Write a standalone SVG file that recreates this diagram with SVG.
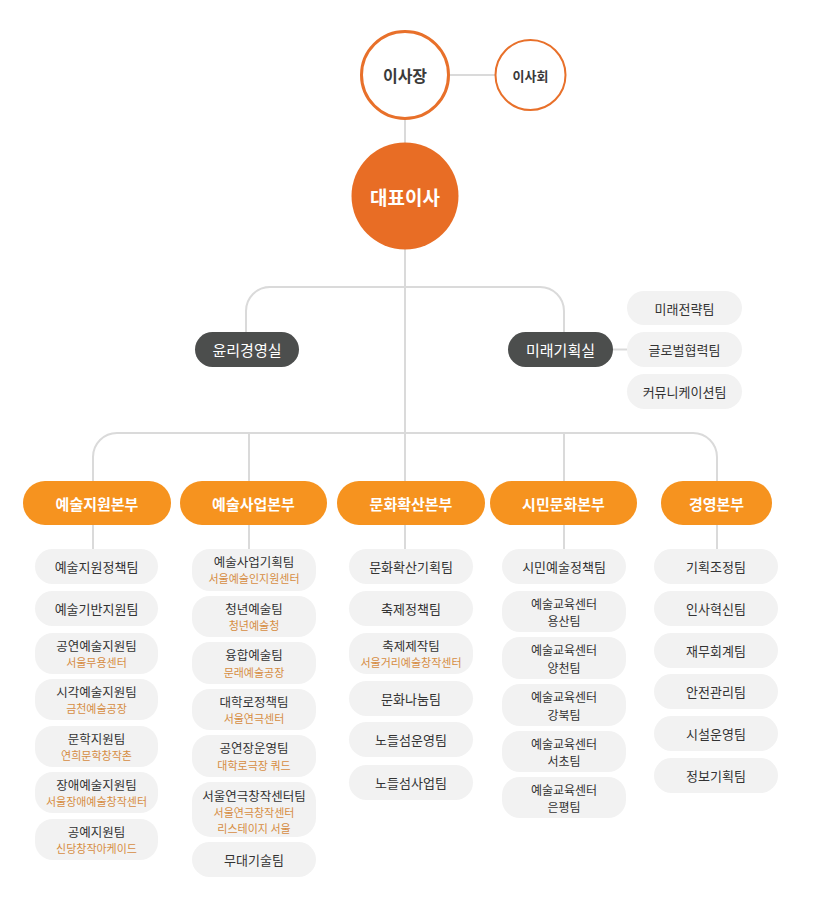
<svg xmlns="http://www.w3.org/2000/svg" width="820" height="900" viewBox="0 0 820 900">
<style>
text{font-family:"Noto Sans CJK KR","Noto Sans",sans-serif;text-anchor:middle;dominant-baseline:central}
.ln{fill:none;stroke:#dadada;stroke-width:2}
.box{fill:#f2f2f2}
.t{font-size:13px;fill:#333}
.m{font-size:12.5px;fill:#333}
.t2{font-size:12px;fill:#333}
.s{font-size:11px;fill:#d68d42}
.div{fill:#f6931f}
.dt{font-size:15px;font-weight:bold;fill:#fff}
.dark{fill:#4c4e4d}
.dk{font-size:15px;fill:#fff}
</style>
<rect width="820" height="900" fill="#fff"/>
<g id="connectors">
<line class="ln" x1="450" y1="75" x2="495" y2="75"/>
<line class="ln" x1="405" y1="119" x2="405" y2="143"/>
<line class="ln" x1="405" y1="249" x2="405" y2="481"/>
<path class="ln" d="M246,332 V311 A24,24 0 0 1 270,287 H540 A24,24 0 0 1 564,311 V332"/>
<line class="ln" x1="613" y1="349.5" x2="627" y2="349.5"/>
<path class="ln" d="M93,481 V457 A24,24 0 0 1 117,433 H693 A24,24 0 0 1 717,457 V481"/>
<line class="ln" x1="249" y1="433" x2="249" y2="481"/>
<line class="ln" x1="564" y1="433" x2="564" y2="481"/>
<line class="ln" x1="93" y1="525" x2="93" y2="549"/>
<line class="ln" x1="249" y1="525" x2="249" y2="549"/>
<line class="ln" x1="405" y1="525" x2="405" y2="549"/>
<line class="ln" x1="564" y1="525" x2="564" y2="549"/>
<line class="ln" x1="717" y1="525" x2="717" y2="549"/>
</g>
<g id="chairman"><circle cx="405" cy="75" r="43.5" fill="#fff" stroke="#e8702a" stroke-width="3"/><text x="405" y="75" style="font-size:16px;font-weight:bold;fill:#3a3a3a">이사장</text></g>
<g id="board"><circle cx="530.5" cy="75" r="35" fill="#fff" stroke="#e8702a" stroke-width="2"/><text x="530.5" y="75" style="font-size:13px;font-weight:bold;fill:#3a3a3a">이사회</text></g>
<g id="ceo"><circle cx="405" cy="196" r="53.5" fill="#e86d25"/><text x="405" y="196" style="font-size:19px;font-weight:bold;fill:#fff">대표이사</text></g>
<g id="ethics"><rect class="dark" x="195" y="332" width="104" height="35" rx="17.5"/><text class="dk" x="247" y="349.5">윤리경영실</text></g>
<g id="future"><rect class="dark" x="508" y="332" width="105" height="35" rx="17.5"/><text class="dk" x="560.5" y="349.5">미래기획실</text></g>
<g id="future-teams">
<rect class="box" x="627" y="291" width="115" height="34" rx="17"/><text class="t" x="684.5" y="308">미래전략팀</text>
<rect class="box" x="627" y="332" width="115" height="35" rx="17.5"/><text class="t" x="684.5" y="349.5">글로벌협력팀</text>
<rect class="box" x="627" y="374" width="115" height="35" rx="17.5"/><text class="t" x="684.5" y="391.5">커뮤니케이션팀</text>
</g>
<g id="div1"><rect class="div" x="23" y="481" width="148" height="44" rx="22"/><text class="dt" x="97" y="503">예술지원본부</text></g>
<g id="div2"><rect class="div" x="180" y="481" width="147" height="44" rx="22"/><text class="dt" x="253.5" y="503">예술사업본부</text></g>
<g id="div3"><rect class="div" x="337" y="481" width="148" height="44" rx="22"/><text class="dt" x="411" y="503">문화확산본부</text></g>
<g id="div4"><rect class="div" x="490" y="481" width="147" height="44" rx="22"/><text class="dt" x="563.5" y="503">시민문화본부</text></g>
<g id="div5"><rect class="div" x="661" y="481" width="111" height="44" rx="22"/><text class="dt" x="716.5" y="503">경영본부</text></g>
<g id="col1">
<rect class="box" x="35" y="549" width="123" height="35" rx="17.5"/><text class="t" x="96.5" y="566.5">예술지원정책팀</text>
<rect class="box" x="35" y="591" width="123" height="35" rx="17.5"/><text class="t" x="96.5" y="608.5">예술기반지원팀</text>
<rect class="box" x="35" y="633" width="123" height="41" rx="18"/><text class="m" x="96.5" y="645">공연예술지원팀</text><text class="s" x="96.5" y="662">서울무용센터</text>
<rect class="box" x="35" y="679" width="123" height="41" rx="18"/><text class="m" x="96.5" y="691">시각예술지원팀</text><text class="s" x="96.5" y="708">금천예술공장</text>
<rect class="box" x="35" y="726" width="123" height="41" rx="18"/><text class="m" x="96.5" y="738">문학지원팀</text><text class="s" x="96.5" y="755">연희문학창작촌</text>
<rect class="box" x="35" y="772" width="123" height="41" rx="18"/><text class="m" x="96.5" y="784">장애예술지원팀</text><text class="s" x="96.5" y="801">서울장애예술창작센터</text>
<rect class="box" x="35" y="819" width="123" height="41" rx="18"/><text class="m" x="96.5" y="831">공예지원팀</text><text class="s" x="96.5" y="848">신당창작아케이드</text>
</g>
<g id="col2">
<rect class="box" x="192" y="549" width="124" height="42" rx="18"/><text class="m" x="254" y="561">예술사업기획팀</text><text class="s" x="254" y="578">서울예술인지원센터</text>
<rect class="box" x="192" y="596" width="124" height="41" rx="18"/><text class="m" x="254" y="608">청년예술팀</text><text class="s" x="254" y="625">청년예술청</text>
<rect class="box" x="192" y="642" width="124" height="42" rx="18"/><text class="m" x="254" y="654.5">융합예술팀</text><text class="s" x="254" y="671.5">문래예술공장</text>
<rect class="box" x="192" y="689" width="124" height="41" rx="18"/><text class="m" x="254" y="701">대학로정책팀</text><text class="s" x="254" y="718">서울연극센터</text>
<rect class="box" x="192" y="735" width="124" height="42" rx="18"/><text class="m" x="254" y="747.5">공연장운영팀</text><text class="s" x="254" y="764.5">대학로극장 쿼드</text>
<rect class="box" x="192" y="782" width="124" height="55" rx="19"/><text class="m" x="254" y="795">서울연극창작센터팀</text><text class="s" x="254" y="812">서울연극창작센터</text><text class="s" x="254" y="828">리스테이지 서울</text>
<rect class="box" x="192" y="842" width="124" height="35" rx="17.5"/><text class="t" x="254" y="859.5">무대기술팀</text>
</g>
<g id="col3">
<rect class="box" x="349" y="549" width="124" height="35" rx="17.5"/><text class="t" x="411" y="566.5">문화확산기획팀</text>
<rect class="box" x="349" y="591" width="124" height="35" rx="17.5"/><text class="t" x="411" y="608.5">축제정책팀</text>
<rect class="box" x="349" y="633" width="124" height="41" rx="18"/><text class="m" x="411" y="645">축제제작팀</text><text class="s" x="411" y="662">서울거리예술창작센터</text>
<rect class="box" x="349" y="681" width="124" height="35" rx="17.5"/><text class="t" x="411" y="698.5">문화나눔팀</text>
<rect class="box" x="349" y="722" width="124" height="35" rx="17.5"/><text class="t" x="411" y="739.5">노들섬운영팀</text>
<rect class="box" x="349" y="765" width="124" height="35" rx="17.5"/><text class="t" x="411" y="782.5">노들섬사업팀</text>
</g>
<g id="col4">
<rect class="box" x="502" y="549" width="124" height="35" rx="17.5"/><text class="t" x="564" y="566.5">시민예술정책팀</text>
<rect class="box" x="502" y="591" width="124" height="41" rx="18"/><text class="t2" x="564" y="603">예술교육센터</text><text class="t2" x="564" y="620.5">용산팀</text>
<rect class="box" x="502" y="637" width="124" height="42" rx="18"/><text class="t2" x="564" y="649.5">예술교육센터</text><text class="t2" x="564" y="667">양천팀</text>
<rect class="box" x="502" y="684" width="124" height="42" rx="18"/><text class="t2" x="564" y="696.5">예술교육센터</text><text class="t2" x="564" y="714">강북팀</text>
<rect class="box" x="502" y="731" width="124" height="41" rx="18"/><text class="t2" x="564" y="743">예술교육센터</text><text class="t2" x="564" y="760.5">서초팀</text>
<rect class="box" x="502" y="777" width="124" height="41" rx="18"/><text class="t2" x="564" y="789">예술교육센터</text><text class="t2" x="564" y="806.5">은평팀</text>
</g>
<g id="col5">
<rect class="box" x="654" y="549" width="124" height="35" rx="17.5"/><text class="t" x="716" y="566.5">기획조정팀</text>
<rect class="box" x="654" y="591" width="124" height="35" rx="17.5"/><text class="t" x="716" y="608.5">인사혁신팀</text>
<rect class="box" x="654" y="633" width="124" height="35" rx="17.5"/><text class="t" x="716" y="650.5">재무회계팀</text>
<rect class="box" x="654" y="674" width="124" height="35" rx="17.5"/><text class="t" x="716" y="691.5">안전관리팀</text>
<rect class="box" x="654" y="716" width="124" height="35" rx="17.5"/><text class="t" x="716" y="733.5">시설운영팀</text>
<rect class="box" x="654" y="758" width="124" height="35" rx="17.5"/><text class="t" x="716" y="775.5">정보기획팀</text>
</g>
</svg>
